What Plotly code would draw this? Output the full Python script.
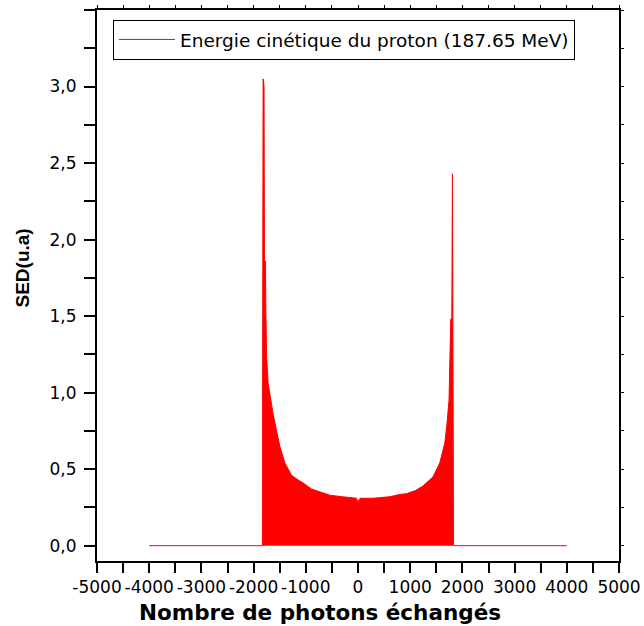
import plotly.graph_objects as go

# Envelope of the SED spectrum
photons = [-4000, -1832, -1818, -1800, -1792, -1772, -1765, -1752, -1721, -1689,
           -1626, -1560, -1497, -1401, -1273, -1150, -1051, -890, -700, -540,
           -300, -29, -15, 0, 15, 40, 289, 609, 800, 929, 1100, 1246, 1438,
           1566, 1662, 1700, 1744, 1757, 1777, 1797, 1810, 1830, 4000]
sed = [0.0, 0.0, 3.05, 3.0, 1.86, 1.86, 1.54, 1.24, 1.06, 0.99,
       0.86, 0.75, 0.65, 0.54, 0.46, 0.43, 0.41, 0.37, 0.35, 0.33,
       0.32, 0.31, 0.27, 0.30, 0.27, 0.31, 0.31, 0.32, 0.335, 0.34, 0.36, 0.39, 0.45,
       0.54, 0.67, 0.78, 0.95, 1.15, 1.48, 1.48, 2.43, 0.0, 0.0]

series_name = "Energie cinétique du proton (187.65 MeV)"

x_tickvals = [-5000, -4000, -3000, -2000, -1000, 0, 1000, 2000, 3000, 4000, 5000]
x_ticktext = ["-5000", "-4000", "-3000", "-2000", "-1000", "0", "1000", "2000", "3000", "4000", "5000"]
y_tickvals = [0, 0.5, 1.0, 1.5, 2.0, 2.5, 3.0, 3.5]
y_ticktext = ["0,0", "0,5", "1,0", "1,5", "2,0", "2,5", "3,0", "3,5"]

RED = "#FF0000"

fig = go.Figure()
fig.add_trace(go.Scatter(x=photons, y=sed, mode="lines", fill="tozeroy",
                         fillcolor=RED, line=dict(color=RED, width=1),
                         showlegend=False, hoverinfo="x+y"))
# legend entry (line only), attached to the mirror axes so they get drawn
fig.add_trace(go.Scatter(x=[None], y=[None], mode="lines", name=series_name,
                         line=dict(color=RED, width=1), showlegend=True,
                         xaxis="x2", yaxis="y2"))

axis_common = dict(showgrid=False, zeroline=False, showline=True,
                   linecolor="black", automargin=False)

fig.update_layout(
    width=644, height=626,
    margin=dict(l=97, r=25, t=10, b=65),
    paper_bgcolor="white", plot_bgcolor="white",
    font=dict(family="DejaVu Sans", color="black"),
    xaxis=dict(range=[-5000, 5000], tickmode="array", tickvals=x_tickvals,
               ticktext=x_ticktext, ticks="outside", ticklen=10, tickwidth=2,
               tickcolor="black", linewidth=2, tickangle=0,
               tickfont=dict(family="DejaVu Sans", size=17, color="black"),
               minor=dict(dtick=500, tick0=0, ticks="outside", ticklen=10,
                          tickwidth=2, tickcolor="black", showgrid=False),
               **axis_common),
    yaxis=dict(range=[-0.1, 3.5], tickmode="array", tickvals=y_tickvals,
               ticktext=y_ticktext, ticks="outside", ticklen=11, tickwidth=2,
               tickcolor="black", linewidth=2, ticklabelstandoff=4,
               tickfont=dict(family="DejaVu Sans", size=17, color="black"),
               minor=dict(dtick=0.25, tick0=0, ticks="outside", ticklen=11,
                          tickwidth=2, tickcolor="black", showgrid=False),
               **axis_common),
    xaxis2=dict(range=[-5000, 5000], overlaying="x", side="top", anchor="y2",
                showticklabels=False, ticks="outside", ticklen=3, tickwidth=1,
                tickcolor="black", dtick=500, tick0=0, linewidth=1.5,
                **axis_common),
    yaxis2=dict(range=[-0.1, 3.5], overlaying="y", side="right", anchor="x2",
                showticklabels=False, ticks="outside", ticklen=3, tickwidth=1,
                tickcolor="black", dtick=0.25, tick0=0, linewidth=2,
                **axis_common),
    legend=dict(x=0.0306, y=0.982, xanchor="left", yanchor="top",
                bordercolor="black", borderwidth=1, bgcolor="white",
                itemwidth=56,
                font=dict(family="DejaVu Sans", size=18.5, color="black")),
    annotations=[
        dict(text="<b>Nombre de photons échangés</b>", xref="paper", yref="paper",
             x=0.427, y=-0.0926, xanchor="center", yanchor="middle", showarrow=False,
             font=dict(family="DejaVu Sans", size=21.5, color="black")),
        dict(text="<b>SED(u.a)</b>", xref="paper", yref="paper",
             x=-0.1437, y=0.5327, xanchor="center", yanchor="middle", showarrow=False,
             textangle=-90,
             font=dict(family="Liberation Sans", size=19, color="black")),
    ],
)

fig.write_html("out.html")
